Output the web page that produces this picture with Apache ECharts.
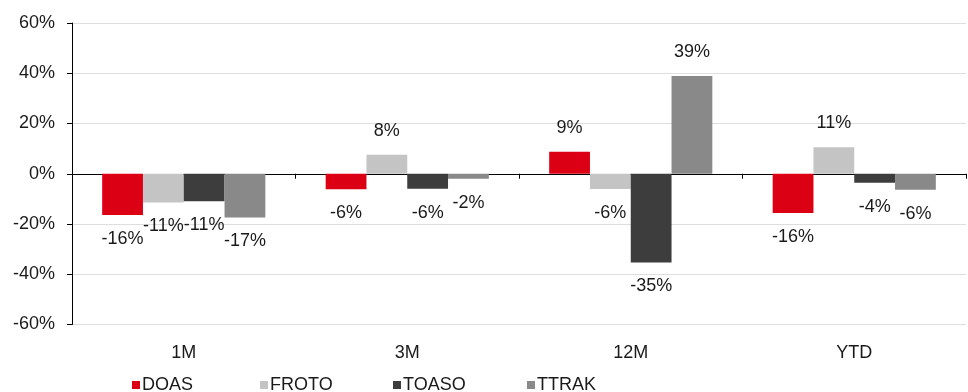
<!DOCTYPE html>
<html><head><meta charset="utf-8">
<script src="https://cdn.jsdelivr.net/npm/echarts@6/dist/echarts.min.js"></script>
<style>html,body{margin:0;padding:0;background:#fff}#c{width:968px;height:392px}</style>
</head><body><div id="c"></div>
<script>
var categories = ['1M', '3M', '12M', 'YTD'];
var seriesNames = ['DOAS', 'FROTO', 'TOASO', 'TTRAK'];
var doas  = [-16.4, -6.2, 8.8, -15.6];
var froto = [-11.4, 7.6, -6.1, 10.5];
var toaso = [-10.9, -6.0, -35.3, -3.6];
var ttrak = [-17.4, -2.0, 38.9, -6.4];
var yTicks = [-60, -40, -20, 0, 20, 40, 60];

var values = [doas, froto, toaso, ttrak];
var colors = ['#dc0015', '#c4c4c4', '#3d3d3d', '#898989'];
var legendLeft = [132, 260, 393, 527];
var mainFont = '"Liberation Sans", Arial, sans-serif';
var narrowFont = '"Liberation Sans Narrow", "Arial Narrow", "Liberation Sans", sans-serif';

var chart = echarts.init(document.getElementById('c'));
var series = seriesNames.map(function (name, i) {
  return {
    name: name,
    type: 'bar',
    xAxisIndex: 0,
    barGap: '0%',
    barCategoryGap: '27%',
    itemStyle: { color: colors[i] },
    data: values[i].map(function (v) {
      return { value: v, label: { position: v >= 0 ? 'top' : 'bottom' } };
    }),
    label: {
      show: true,
      distance: 15,
      fontFamily: mainFont,
      fontSize: 18,
      color: '#1a1a1a',
      formatter: function (p) { return Math.round(p.value) + '%'; }
    }
  };
});
var legends = seriesNames.map(function (name, i) {
  return {
    data: [name],
    left: legendLeft[i],
    top: 376,
    itemWidth: 8,
    itemHeight: 8,
    icon: 'rect',
    itemGap: 0,
    padding: 0,
    textStyle: { fontFamily: narrowFont, fontSize: 18, color: '#1a1a1a', padding: [0, 0, 0, -3] }
  };
});
chart.setOption({
  animation: false,
  legend: legends,
  grid: { left: 72, right: 2, top: 23, bottom: 67.5 },
  xAxis: [
    {
      type: 'category', data: categories, position: 'bottom',
      axisLine: { show: true, onZero: true, lineStyle: { color: '#000', width: 1 } },
      axisTick: { show: true, length: 5, lineStyle: { color: '#000' } },
      axisLabel: { show: false },
      splitLine: { show: false }
    },
    {
      type: 'category', data: categories, position: 'bottom', offset: 0,
      axisLine: { show: false, onZero: false },
      axisTick: { show: false },
      axisLabel: { show: true, margin: 20, fontFamily: narrowFont, fontSize: 18, color: '#1a1a1a' },
      splitLine: { show: false }
    }
  ],
  yAxis: {
    type: 'value', min: yTicks[0], max: yTicks[yTicks.length - 1], interval: 20,
    axisLine: { show: true, lineStyle: { color: '#000' } },
    axisTick: { show: true, length: 5, lineStyle: { color: '#000' } },
    axisLabel: { margin: 17, fontFamily: mainFont, fontSize: 18, color: '#1a1a1a', formatter: '{value}%' },
    splitLine: { show: true, lineStyle: { color: '#dedede', width: 1 } }
  },
  series: series
});
</script></body></html>
